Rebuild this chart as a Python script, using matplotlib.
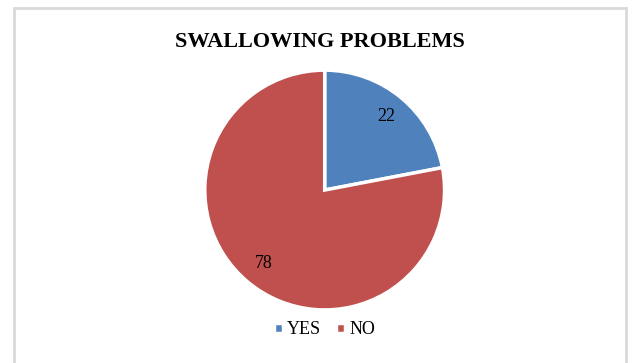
import matplotlib
matplotlib.use('Agg')
import matplotlib.pyplot as plt
import matplotlib.patches as mpatches

plt.rcParams['font.family'] = ['Liberation Serif', 'DejaVu Serif']

labels = ['YES', 'NO']
values = [22, 78]
colors = ['#4F81BD', '#C0504D']

fig = plt.figure(figsize=(6.36, 3.63), dpi=100)
fig.patch.set_facecolor('white')

# chart frame (bottom edge runs off the picture)
fig.add_artist(mpatches.Rectangle((13.5 / 636, -0.05), (626 - 13.5) / 636, 1 - 7.5 / 363 + 0.05,
                                  transform=fig.transFigure, fill=False,
                                  ec='#D9D9D9', lw=2))

ax = fig.add_axes([0.322, 0.146, 0.377, 0.661])
wedges, texts = ax.pie(values, colors=colors, startangle=90, counterclock=False,
                       labels=[str(v) for v in values], labeldistance=0.8,
                       wedgeprops=dict(edgecolor='white', linewidth=2.5),
                       textprops=dict(fontsize=13, color='black', ha='center', va='center'))
ax.set_xlim(-1.0, 1.0)
ax.set_ylim(-1.0, 1.0)
ax.set_aspect('equal')

fig.text(0.503, 1 - 42 / 363, 'SWALLOWING PROBLEMS', ha='center', va='center',
         fontsize=16, fontweight='bold')

fig.legend(wedges, labels, loc='center', bbox_to_anchor=(0.51, 1 - 330 / 363),
           ncol=2, frameon=False, fontsize=13, handlelength=0.5, handleheight=0.5,
           handletextpad=0.25, columnspacing=0.8)

plt.savefig('out.png', dpi=100, facecolor='white')
plt.close()
